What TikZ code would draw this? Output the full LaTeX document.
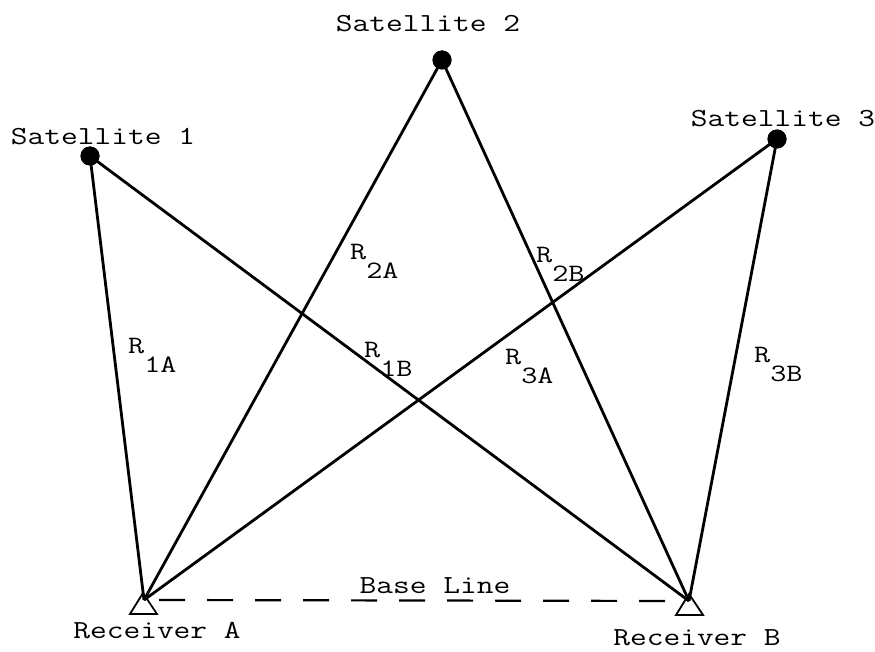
\documentclass[tikz,border=0pt]{standalone}
\usepackage{fontspec}
\setmonofont[FakeStretch=1.25]{Latin Modern Mono}
\newcommand{\Rsub}[1]{R\raisebox{-19pt}{#1}}
\begin{document}
\begin{tikzpicture}[x=1pt,y=-1pt,
  lbl/.style={font=\ttfamily\fontsize{26}{30}\selectfont, inner sep=0pt, anchor=base},
  rlbl/.style={font=\ttfamily\fontsize{25}{30}\selectfont, inner sep=0pt, anchor=base west},
  sat/.style={circle, fill=black, minimum size=19pt, inner sep=0pt},
  ray/.style={line width=2.8pt},
  rcv/.style={line width=1.8pt, line join=miter},
  base/.style={line width=2.2pt, dash pattern=on 26pt off 22pt}]
\useasboundingbox (0,0) rectangle (875,652);
% satellites and receivers
\node[sat] (S1) at (90,156) {};
\node[sat] (S2) at (442,60) {};
\node[sat] (S3) at (777,139) {};
\coordinate (A) at (144,600);
\coordinate (B) at (689,601);
% ranges
\draw[ray] (S1.center) -- (A);
\draw[ray] (S1.center) -- (B);
\draw[ray] (S2.center) -- (A);
\draw[ray] (S2.center) -- (B);
\draw[ray] (S3.center) -- (A);
\draw[ray] (S3.center) -- (B);
\node[sat] at (S1) {};
\node[sat] at (S2) {};
\node[sat] at (S3) {};
% receiver triangles
\draw[rcv] (A) ++(-1,-7) -- ++(-13,21) -- ++(27,0) -- cycle;
\draw[rcv] (B) ++(0,-7) -- ++(-13,21) -- ++(27,0) -- cycle;
% base line
\draw[base] ([xshift=15pt]A) -- ([xshift=-8pt]B);
% labels
\node[lbl] (t1) at (103,145) {Satellite 1};
\node[lbl] (t2) at (428,32) {Satellite 2};
\node[lbl] (t3) at (783,127) {Satellite 3};
\node[lbl] (tA) at (157,638) {Receiver A};
\node[lbl] (tB) at (697,645) {Receiver B};
\node[lbl] (tBL) at (435,593) {Base Line};
\node[rlbl] (r1a) at (128,353) {\Rsub{1A}};
\node[rlbl] (r2a) at (350,260) {\Rsub{2A}};
\node[rlbl] (r2b) at (536,262) {\Rsub{2B}};
\node[rlbl] (r1b) at (364,357) {\Rsub{1B}};
\node[rlbl] (r3a) at (505,364) {\Rsub{3A}};
\node[rlbl] (r3b) at (754,362) {\Rsub{3B}};
\end{tikzpicture}
\end{document}
